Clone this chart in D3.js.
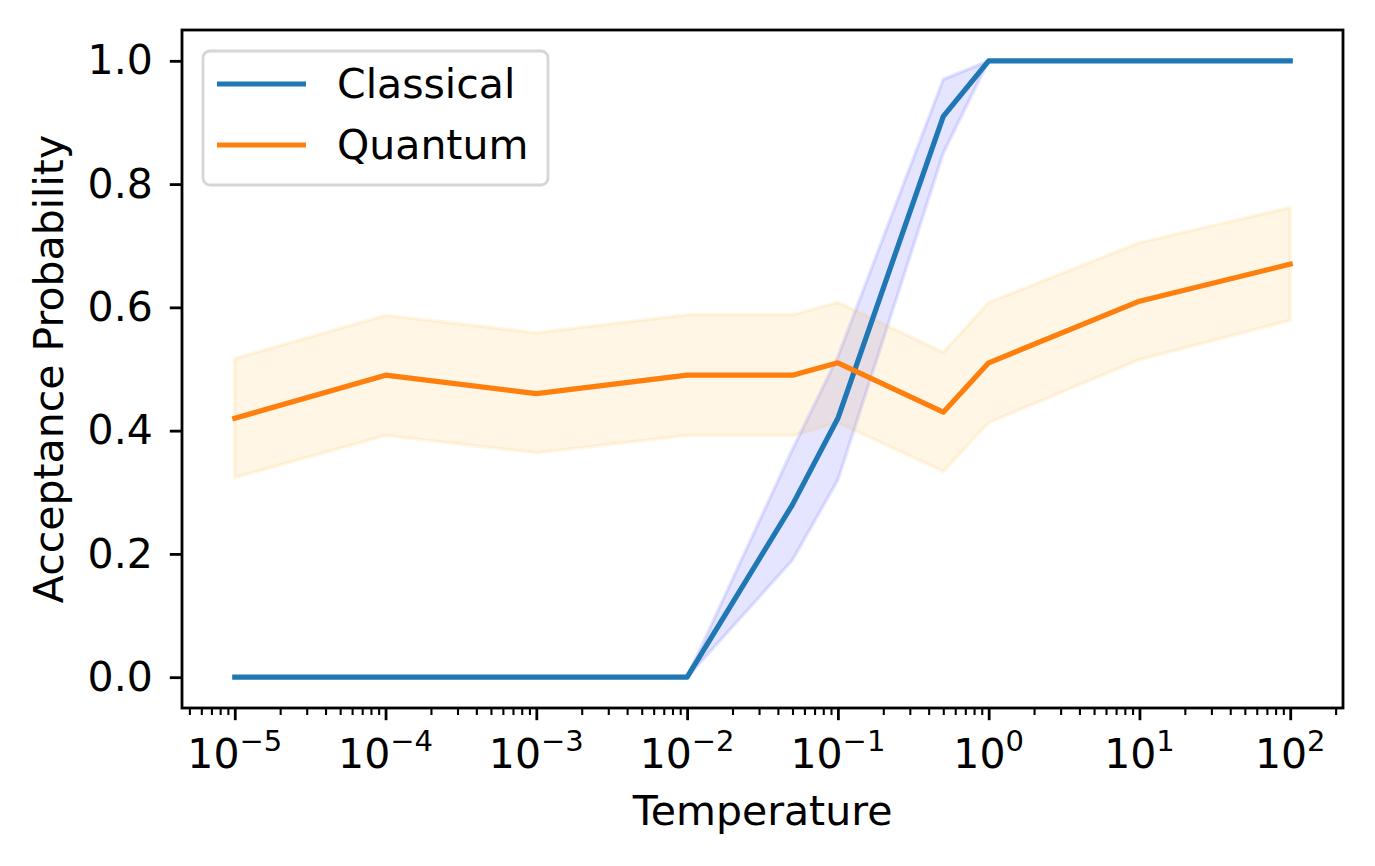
<!DOCTYPE html>
<html>
<head>
<meta charset="utf-8">
<script src="https://cdn.jsdelivr.net/npm/d3@7"></script>
<style>
  body { margin: 0; background: #fff; }
  svg { display: block; font-family: "DejaVu Sans", sans-serif; }
</style>
</head>
<body>
<div id="graph-container"></div>
<script>
// Data
var temperatures = [1e-5, 1e-4, 1e-3, 1e-2, 0.05, 0.1, 0.5, 1, 10, 100];
var classicalMean = [0, 0, 0, 0, 0.28, 0.42, 0.91, 1, 1, 1];
var classicalLow  = [0, 0, 0, 0, 0.19, 0.32, 0.85, 1, 1, 1];
var classicalHigh = [0, 0, 0, 0, 0.37, 0.52, 0.97, 1, 1, 1];
var quantumMean = [0.42, 0.49, 0.46, 0.49, 0.49, 0.51, 0.43, 0.51, 0.61, 0.67];
var quantumLow  = [0.324, 0.392, 0.364, 0.392, 0.392, 0.413, 0.334, 0.413, 0.515, 0.579];
var quantumHigh = [0.517, 0.587, 0.559, 0.588, 0.588, 0.608, 0.527, 0.608, 0.705, 0.762];
var seriesNames = ["Classical", "Quantum"];
var yTicks = [0, 0.2, 0.4, 0.6, 0.8, 1.0];
var xExponents = [-5, -4, -3, -2, -1, 0, 1, 2];

var svgWidth = 1375;
var svgHeight = 866;
var margin = { top: 30, right: 32, bottom: 158, left: 182 };
var chartWidth = svgWidth - margin.left - margin.right;
var chartHeight = svgHeight - margin.top - margin.bottom;
var fontSize = 41;

var svg = d3.select("#graph-container")
  .append("svg")
  .attr("width", svgWidth)
  .attr("height", svgHeight);

var chart = svg.append("g")
  .attr("transform", "translate(" + margin.left + "," + margin.top + ")");

var xScale = d3.scaleLog()
  .domain([Math.pow(10, -5.35), Math.pow(10, 2.35)])
  .range([0, chartWidth]);

var yScale = d3.scaleLinear()
  .domain([-0.05, 1.05])
  .range([chartHeight, 0]);

// Bands
function band(low, high) {
  return d3.area()
    .x(function (d, i) { return xScale(temperatures[i]); })
    .y0(function (d, i) { return yScale(low[i]); })
    .y1(function (d, i) { return yScale(high[i]); })(temperatures);
}

chart.append("path")
  .attr("d", band(classicalLow, classicalHigh))
  .attr("fill", "blue").attr("fill-opacity", 0.1)
  .attr("stroke", "blue").attr("stroke-opacity", 0.1).attr("stroke-width", 3.5);

chart.append("path")
  .attr("d", band(quantumLow, quantumHigh))
  .attr("fill", "orange").attr("fill-opacity", 0.1)
  .attr("stroke", "orange").attr("stroke-opacity", 0.1).attr("stroke-width", 3.5);

// Lines
var line = d3.line()
  .x(function (d) { return xScale(d.x); })
  .y(function (d) { return yScale(d.y); });

var colors = ["#1f77b4", "#ff7f0e"];
[classicalMean, quantumMean].forEach(function (vals, k) {
  chart.append("path")
    .datum(temperatures.map(function (t, i) { return { x: t, y: vals[i] }; }))
    .attr("d", line)
    .attr("fill", "none")
    .attr("stroke", colors[k])
    .attr("stroke-width", 5.2)
    .attr("stroke-linejoin", "round")
    .attr("stroke-linecap", "square");
});

// Y axis
var yAxis = d3.axisLeft(yScale)
  .tickValues(yTicks)
  .tickSize(12.2)
  .tickPadding(17)
  .tickFormat(d3.format(".1f"));
var yG = chart.append("g").call(yAxis);
yG.select(".domain").remove();
yG.selectAll("line").attr("stroke-width", 2.8);
yG.selectAll("text").attr("font-size", fontSize).attr("font-family", "DejaVu Sans").attr("fill", "#000");

// X axis major ticks
var xAxis = d3.axisBottom(xScale)
  .tickValues(xExponents.map(function (e) { return Math.pow(10, e); }))
  .tickSize(12.2)
  .tickFormat("");
var xG = chart.append("g")
  .attr("transform", "translate(0," + chartHeight + ")")
  .call(xAxis);
xG.select(".domain").remove();
xG.selectAll("line").attr("stroke-width", 2.8);

// X axis minor ticks
var minorVals = [];
var dom = xScale.domain();
for (var e = -6; e <= 2; e++) {
  for (var m = 2; m <= 9; m++) {
    var v = m * Math.pow(10, e);
    if (v >= dom[0] && v <= dom[1]) minorVals.push(v);
  }
}
var xMinor = d3.axisBottom(xScale).tickValues(minorVals).tickSize(7).tickFormat("");
var xmG = chart.append("g")
  .attr("transform", "translate(0," + chartHeight + ")")
  .call(xMinor);
xmG.select(".domain").remove();
xmG.selectAll("line").attr("stroke-width", 2.1);

// X tick labels with superscripts
xExponents.forEach(function (e) {
  var t = chart.append("text")
    .attr("x", xScale(Math.pow(10, e)))
    .attr("y", chartHeight + 60)
    .attr("text-anchor", "middle")
    .attr("font-size", fontSize)
    .attr("fill", "#000");
  t.append("tspan").text("10");
  t.append("tspan")
    .attr("font-size", 29)
    .attr("dy", -17)
    .text(e < 0 ? "\u2212" + Math.abs(e) : String(e));
});

// Frame
chart.append("rect")
  .attr("width", chartWidth)
  .attr("height", chartHeight)
  .attr("fill", "none")
  .attr("stroke", "#000")
  .attr("stroke-width", 2.8);

// Axis labels
svg.append("text")
  .attr("x", margin.left + chartWidth / 2)
  .attr("y", 825)
  .attr("text-anchor", "middle")
  .attr("font-size", fontSize)
  .text("Temperature");

svg.append("text")
  .attr("transform", "translate(63," + (margin.top + chartHeight / 2) + ") rotate(-90)")
  .attr("text-anchor", "middle")
  .attr("font-size", fontSize)
  .text("Acceptance Probability");

// Legend
var legend = chart.append("g").attr("transform", "translate(21,21)");
legend.append("rect")
  .attr("width", 345)
  .attr("height", 134)
  .attr("rx", 7)
  .attr("fill", "#fff")
  .attr("fill-opacity", 0.8)
  .attr("stroke", "#d6d6d6")
  .attr("stroke-width", 2.8);
seriesNames.forEach(function (name, i) {
  var yPos = 33 + i * 61;
  legend.append("line")
    .attr("x1", 14).attr("x2", 103)
    .attr("y1", yPos).attr("y2", yPos)
    .attr("stroke", colors[i])
    .attr("stroke-width", 5.2);
  legend.append("text")
    .attr("x", 134)
    .attr("y", yPos + 14)
    .attr("font-size", fontSize)
    .text(name);
});
</script>
</body>
</html>
